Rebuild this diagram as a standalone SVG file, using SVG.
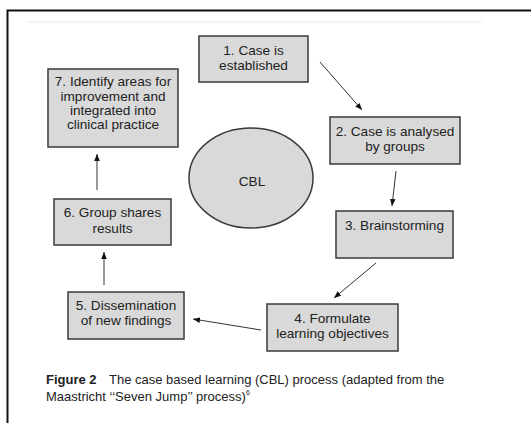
<svg xmlns="http://www.w3.org/2000/svg" width="531" height="423" viewBox="0 0 531 423">
<defs>
<marker id="ah" viewBox="0 0 10 10" refX="10" refY="5" markerWidth="7" markerHeight="7" markerUnits="userSpaceOnUse" orient="auto">
<path d="M0,1 L10,5 L0,9 z" fill="#111"/>
</marker>
</defs>
<style>
.box{fill:#d9d9d9;stroke:#3a3a3a;stroke-width:1.5}
.t{font-family:"Liberation Sans",Arial,sans-serif;font-size:13.6px;fill:#222;text-anchor:middle}
.c{font-family:"Liberation Sans",Arial,sans-serif;font-size:13px;fill:#222}
.ln{stroke:#333;stroke-width:1;fill:none;marker-end:url(#ah)}
</style>
<rect width="531" height="423" fill="#fff"/>
<path d="M7.5,423 V10.5 H531" fill="none" stroke="#111" stroke-width="2"/>
<line x1="27" y1="22" x2="482" y2="22" stroke="#f0f0f0" stroke-width="1.5"/>
<g id="connectors">
<line class="ln" x1="320" y1="62" x2="362" y2="110"/>
<line class="ln" x1="396" y1="171" x2="392" y2="206"/>
<line class="ln" x1="376" y1="263" x2="334" y2="298"/>
<line class="ln" x1="261" y1="330" x2="193" y2="319"/>
<line class="ln" x1="104" y1="285" x2="104" y2="252"/>
<line class="ln" x1="97" y1="190" x2="97" y2="154"/>
</g>
<g id="n1"><rect class="box" x="199" y="36" width="109" height="46"/><text class="t" x="253.5" y="55">1. Case is</text><text class="t" x="253.5" y="70">established</text></g>
<g id="n2"><rect class="box" x="330" y="117" width="130" height="47"/><text class="t" x="395" y="136">2. Case is analysed</text><text class="t" x="395" y="151">by groups</text></g>
<g id="n3"><rect class="box" x="336" y="211" width="117" height="47"/><text class="t" x="394.5" y="230">3. Brainstorming</text></g>
<g id="n4"><rect class="box" x="267" y="304" width="131" height="47"/><text class="t" x="332.5" y="323">4. Formulate</text><text class="t" x="332.5" y="338">learning objectives</text></g>
<g id="n5"><rect class="box" x="68" y="292" width="116" height="47"/><text class="t" x="126" y="310">5. Dissemination</text><text class="t" x="126" y="325">of new findings</text></g>
<g id="n6"><rect class="box" x="54" y="199" width="117" height="46"/><text class="t" x="112.5" y="217">6. Group shares</text><text class="t" x="112.5" y="233">results</text></g>
<g id="n7"><rect class="box" x="48" y="69" width="130" height="78"/><text class="t" x="113" y="86">7. Identify areas for</text><text class="t" x="113" y="101">improvement and</text><text class="t" x="113" y="115">integrated into</text><text class="t" x="113" y="129">clinical practice</text></g>
<g id="cbl"><ellipse cx="251" cy="178" rx="62" ry="50" fill="#d9d9d9" stroke="#3a3a3a" stroke-width="1.5"/><text class="t" x="252" y="186">CBL</text></g>
<g id="caption">
<text class="c" x="46" y="384"><tspan font-weight="bold">Figure 2</tspan><tspan x="109">The case based learning (CBL) process (adapted from the</tspan></text>
<text class="c" x="46" y="401">Maastricht ‘‘Seven Jump’’ process)<tspan font-size="7" dy="-6">6</tspan></text>
</g>
</svg>
